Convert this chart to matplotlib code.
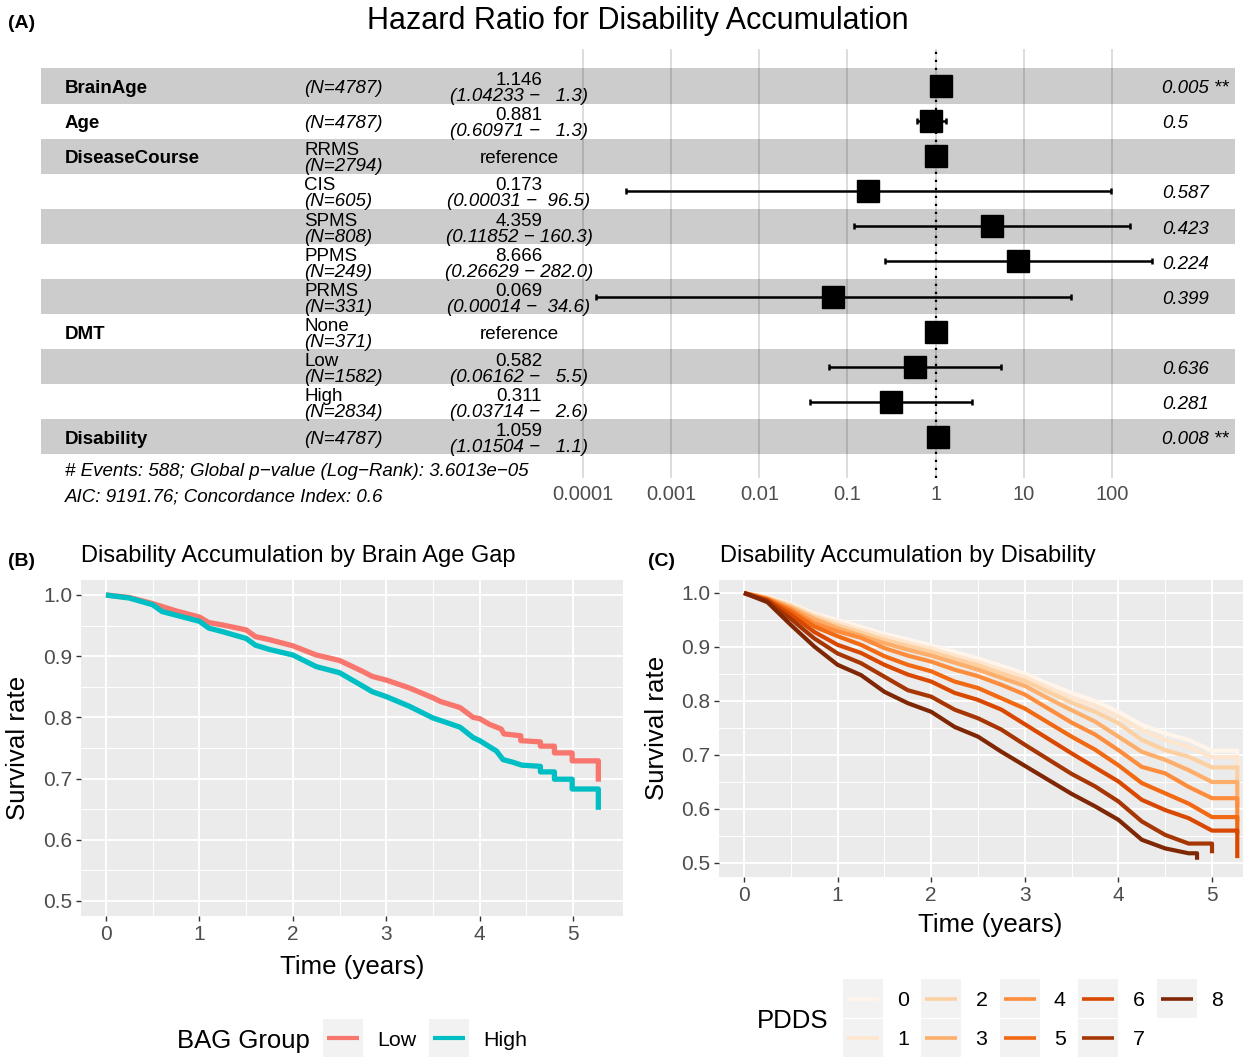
import numpy as np
import matplotlib
matplotlib.use("Agg")
import matplotlib.pyplot as plt
from matplotlib.transforms import blended_transform_factory
from matplotlib.patches import Rectangle
from matplotlib.ticker import NullLocator, FixedLocator, FormatStrFormatter

plt.rcParams['font.family'] = ['Liberation Sans', 'DejaVu Sans']

W, H = 1243, 1057

# ---- (A) forest plot data
var_names = ["BrainAge", "Age", "DiseaseCourse", "", "", "", "", "DMT", "", "", "Disability"]
levels = ["", "", "RRMS", "CIS", "SPMS", "PPMS", "PRMS", "None", "Low", "High", ""]
n_obs = [4787, 4787, 2794, 605, 808, 249, 331, 371, 1582, 2834, 4787]
hr = [1.146, 0.881, 1.0, 0.173, 4.359, 8.666, 0.069, 1.0, 0.582, 0.311, 1.059]
ci_low = [1.04233, 0.60971, None, 0.00031, 0.11852, 0.26629, 0.00014, None, 0.06162, 0.03714, 1.01504]
ci_high = [1.3, 1.3, None, 96.5, 160.3, 282.0, 34.6, None, 5.5, 2.6, 1.1]
p_text = ["0.005 **", "0.5", "", "0.587", "0.423", "0.224", "0.399", "", "0.636", "0.281", "0.008 **"]
hr_ticks = [0.0001, 0.001, 0.01, 0.1, 1, 10, 100]
hr_tick_labels = ["0.0001", "0.001", "0.01", "0.1", "1", "10", "100"]
footnote = ["# Events: 588; Global p\u2212value (Log\u2212Rank): 3.6013e\u221205",
            "AIC: 9191.76; Concordance Index: 0.6"]

# ---- (B) KM by brain age gap group
bag_groups = ["Low", "High"]
bag_colors = ["#F8766D", "#00BFC4"]
t_low = [0, 0.25, 0.5, 0.75, 1.0, 1.1, 1.25, 1.5, 1.6, 1.75, 2.0, 2.25, 2.5, 2.75, 2.85,
         3.0, 3.25, 3.5, 3.58, 3.79, 3.93, 4.0, 4.1, 4.23, 4.26, 4.44, 4.44, 4.65, 4.65,
         4.8, 4.8, 4.99, 4.99, 5.27, 5.27]
s_low = [1.0, 0.996, 0.986, 0.974, 0.964, 0.955, 0.951, 0.943, 0.932, 0.927, 0.917, 0.902,
         0.893, 0.875, 0.867, 0.861, 0.848, 0.832, 0.826, 0.816, 0.800, 0.798, 0.789, 0.781,
         0.773, 0.770, 0.762, 0.760, 0.753, 0.753, 0.742, 0.742, 0.729, 0.729, 0.695]
t_high = [0, 0.25, 0.5, 0.6, 0.75, 1.0, 1.1, 1.25, 1.5, 1.6, 1.75, 2.0, 2.25, 2.5, 2.75,
          2.85, 3.0, 3.25, 3.5, 3.58, 3.79, 3.93, 4.0, 4.18, 4.25, 4.35, 4.45, 4.65, 4.65,
          4.8, 4.8, 4.99, 4.99, 5.27, 5.27]
s_high = [1.0, 0.995, 0.984, 0.973, 0.967, 0.957, 0.946, 0.940, 0.929, 0.918, 0.911, 0.902,
          0.883, 0.873, 0.851, 0.842, 0.834, 0.818, 0.799, 0.795, 0.784, 0.767, 0.762, 0.745,
          0.731, 0.727, 0.722, 0.720, 0.711, 0.711, 0.699, 0.699, 0.683, 0.683, 0.649]

# ---- (C) predicted survival by PDDS
pdds_levels = ["0", "1", "2", "3", "4", "5", "6", "7", "8"]
pdds_colors = ["#FFF5EB", "#FEE6CE", "#FDD0A2", "#FDAE6B", "#FD8D3C",
               "#F16913", "#D94801", "#A63603", "#7F2704"]
c_times = [0, 0.25, 0.5, 0.75, 1.0, 1.25, 1.5, 1.75, 2.0, 2.25, 2.5, 2.75, 3.0,
           3.25, 3.5, 3.75, 4.0, 4.25, 4.5, 4.75, 5.0]
pdds_surv = [
    [1.0, 0.993, 0.980, 0.962, 0.950, 0.937, 0.924, 0.914, 0.903, 0.891, 0.879, 0.865, 0.851,
     0.832, 0.815, 0.800, 0.780, 0.756, 0.740, 0.728, 0.708],
    [1.0, 0.992, 0.978, 0.959, 0.945, 0.932, 0.919, 0.908, 0.897, 0.884, 0.872, 0.858, 0.844,
     0.825, 0.806, 0.791, 0.771, 0.746, 0.728, 0.715, 0.696],
    [1.0, 0.991, 0.976, 0.956, 0.940, 0.927, 0.913, 0.902, 0.891, 0.878, 0.866, 0.851, 0.837,
     0.817, 0.797, 0.780, 0.759, 0.728, 0.709, 0.697, 0.677],
    [1.0, 0.990, 0.973, 0.952, 0.935, 0.921, 0.907, 0.895, 0.884, 0.871, 0.858, 0.843, 0.828,
     0.805, 0.783, 0.762, 0.734, 0.706, 0.691, 0.672, 0.650],
    [1.0, 0.989, 0.970, 0.944, 0.929, 0.917, 0.898, 0.884, 0.873, 0.858, 0.846, 0.830, 0.812,
     0.786, 0.760, 0.738, 0.709, 0.678, 0.666, 0.641, 0.620],
    [1.0, 0.988, 0.966, 0.938, 0.920, 0.904, 0.883, 0.867, 0.855, 0.836, 0.824, 0.805, 0.786,
     0.760, 0.734, 0.710, 0.681, 0.648, 0.629, 0.610, 0.585],
    [1.0, 0.987, 0.960, 0.928, 0.904, 0.889, 0.867, 0.849, 0.836, 0.815, 0.802, 0.784, 0.757,
     0.730, 0.703, 0.677, 0.651, 0.617, 0.598, 0.583, 0.560],
    [1.0, 0.985, 0.952, 0.916, 0.888, 0.870, 0.845, 0.820, 0.808, 0.784, 0.768, 0.747, 0.719,
     0.692, 0.665, 0.642, 0.614, 0.577, 0.552, 0.536],
    [1.0, 0.983, 0.941, 0.901, 0.867, 0.848, 0.817, 0.796, 0.780, 0.752, 0.734, 0.706, 0.680,
     0.654, 0.628, 0.605, 0.580, 0.543, 0.527, 0.518],
]
pdds_end_t = [5.27, 5.27, 5.27, 5.27, 5.27, 5.27, 5.27, 5.0, 4.84]
pdds_end_s = [0.685, 0.666, 0.648, 0.604, 0.577, 0.555, 0.509, 0.518, 0.506]

time_ticks = [0, 1, 2, 3, 4, 5]
surv_ticks = [0.5, 0.6, 0.7, 0.8, 0.9, 1.0]

fig = plt.figure(figsize=(W / 100, H / 100), dpi=100)


def box(left, top, right, bottom):
    return [left / W, 1 - bottom / H, (right - left) / W, (bottom - top) / H]


# ================= (A) =================
axA = fig.add_axes(box(41, 49, 1235, 478))
axA.set_xscale('log')
axA.set_xlim(10 ** -10.145, 10 ** 3.394)
axA.set_ylim(11.17, -1.054)
rows = np.arange(len(var_names))

for t in hr_ticks:
    axA.axvline(t, color='#DADADA', lw=1.3, zorder=0.5)
for i in rows[::2]:
    axA.axhspan(i - 0.5, i + 0.5, color='black', alpha=0.2, lw=0, zorder=1)
axA.axvline(1, color='black', ls=(0, (1, 2.6)), lw=1.6, zorder=2)

ci_rows = [i for i in rows if ci_low[i] is not None]
est = np.array([hr[i] for i in ci_rows])
lo = np.array([ci_low[i] for i in ci_rows])
hi = np.array([ci_high[i] for i in ci_rows])
axA.errorbar(est, ci_rows, xerr=[est - lo, hi - est], fmt='none', ecolor='black',
             elinewidth=1.8, capsize=2.2, capthick=1.8, zorder=3)
axA.plot(hr, rows, 's', ms=15.5, color='black', ls='none', zorder=4)

trans = blended_transform_factory(axA.transAxes, axA.transData)
col_var, col_n, col_est, col_p = (65 - 41) / 1194, (304 - 41) / 1194, (519 - 41) / 1194, (1162 - 41) / 1194
off = 0.228
dy = 0.075   # matplotlib centres on the full text box; nudge down a little
fs = 13.5
for i in rows:
    y = i + dy
    axA.text(col_var, y, var_names[i], transform=trans, ha='left', va='center',
             fontsize=fs, fontweight='bold')
    if levels[i]:
        axA.text(col_n, y - off, levels[i], transform=trans, ha='left', va='center', fontsize=fs)
        axA.text(col_n, y + off, f"(N={n_obs[i]})", transform=trans, ha='left', va='center',
                 fontsize=fs, style='italic')
    else:
        axA.text(col_n, y, f"(N={n_obs[i]})", transform=trans, ha='left', va='center',
                 fontsize=fs, style='italic')
    if ci_low[i] is None:
        axA.text(col_est, y, "reference", transform=trans, ha='center', va='center', fontsize=fs)
    else:
        axA.text(col_est, y - off, f"{hr[i]:.3f}", transform=trans, ha='center', va='center', fontsize=fs)
        axA.text(col_est, y + off, f"({ci_low[i]:.5f} \u2212 {ci_high[i]:5.1f})", transform=trans,
                 ha='center', va='center', fontsize=fs, style='italic')
    if p_text[i]:
        axA.text(col_p, y, p_text[i], transform=trans, ha='left', va='center', fontsize=fs, style='italic')

for k, line in enumerate(footnote):
    axA.text(col_var, 10.91 + dy + 0.74 * k, line, transform=trans, ha='left', va='center',
             fontsize=fs, style='italic', clip_on=False)

axA.set_xticks(hr_ticks)
axA.set_xticklabels(hr_tick_labels)
axA.xaxis.set_minor_locator(NullLocator())
axA.tick_params(axis='x', length=0, pad=5, labelsize=14.5, labelcolor='#4D4D4D')
axA.set_yticks([])
for s in axA.spines.values():
    s.set_visible(False)


# ================= (B) and (C) shared style =================
def km_axes(ax):
    ax.set_facecolor('#EBEBEB')
    ax.set_xlim(-0.264, 5.534)
    ax.set_ylim(0.475, 1.025)
    ax.set_xticks(time_ticks)
    ax.set_yticks(surv_ticks)
    ax.xaxis.set_minor_locator(FixedLocator([0.5, 1.5, 2.5, 3.5, 4.5]))
    ax.yaxis.set_minor_locator(FixedLocator([0.55, 0.65, 0.75, 0.85, 0.95]))
    ax.yaxis.set_major_formatter(FormatStrFormatter('%.1f'))
    ax.grid(which='major', color='white', lw=1.4)
    ax.grid(which='minor', color='white', lw=0.7)
    ax.set_axisbelow(True)
    ax.tick_params(which='major', length=3.5, width=1.0, color='#333333',
                   labelsize=15, labelcolor='#4D4D4D', pad=3)
    ax.tick_params(which='minor', length=0)
    for s in ax.spines.values():
        s.set_visible(False)


axB = fig.add_axes(box(81.3, 579.7, 623, 916.3))
km_axes(axB)
axB.plot(t_low, s_low, color=bag_colors[0], lw=3.8, solid_capstyle='butt')
axB.plot(t_high, s_high, color=bag_colors[1], lw=3.8, solid_capstyle='butt')

axC = fig.add_axes(box(719.3, 579.5, 1262, 876.5))
km_axes(axC)
for vals, col, et, es in zip(pdds_surv, pdds_colors, pdds_end_t, pdds_end_s):
    n = len(vals)
    # read points joined, then the last plateau and the final drop
    tt = c_times[:n] + [et, et]
    ss = vals + [vals[-1], es]
    axC.plot(tt, ss, color=col, lw=3.0, solid_capstyle='butt')

# ================= labels, titles, legends =================
ov = fig.add_axes([0, 0, 1, 1])
ov.set_xlim(0, W)
ov.set_ylim(H, 0)
ov.axis('off')

ov.text(8, 24, "(A)", fontsize=14, fontweight='bold', ha='left', va='center')
ov.text(638, 21, "Hazard Ratio for Disability Accumulation", fontsize=22, ha='center', va='center')
ov.text(8, 562, "(B)", fontsize=14, fontweight='bold', ha='left', va='center')
ov.text(648, 562, "(C)", fontsize=14, fontweight='bold', ha='left', va='center')
ov.text(81, 556, "Disability Accumulation by Brain Age Gap", fontsize=17, ha='left', va='center')
ov.text(720, 556, "Disability Accumulation by Disability", fontsize=17, ha='left', va='center')
ov.text(18, 748, "Survival rate", fontsize=18.6, rotation=90, ha='center', va='center')
ov.text(657, 728, "Survival rate", fontsize=18.6, rotation=90, ha='center', va='center')
ov.text(352, 967, "Time (years)", fontsize=18.6, ha='center', va='center')
ov.text(990, 925, "Time (years)", fontsize=18.6, ha='center', va='center')

# BAG legend
ov.text(177, 1041, "BAG Group", fontsize=18.5, ha='left', va='center')
for i, (g, col) in enumerate(zip(bag_groups, bag_colors)):
    x0 = 323 + 106 * i
    ov.add_patch(Rectangle((x0, 1019), 40, 38, color='#F2F2F2', lw=0))
    ov.plot([x0 + 4, x0 + 36], [1038, 1038], color=col, lw=3.0, solid_capstyle='butt')
    ov.text(x0 + 54, 1041, g, fontsize=15.4, ha='left', va='center')

# PDDS legend
ov.text(757, 1021, "PDDS", fontsize=18.5, ha='left', va='center')
for i, (lab, col) in enumerate(zip(pdds_levels, pdds_colors)):
    x0 = 843 + 78.5 * (i // 2)
    y0 = 979 + 39.5 * (i % 2)
    ov.add_patch(Rectangle((x0, y0), 40, 39, color='#F2F2F2', lw=0))
    ov.plot([x0 + 4, x0 + 36], [y0 + 19.5, y0 + 19.5], color=col, lw=2.6, solid_capstyle='butt')
    ov.text(x0 + 54, y0 + 21, lab, fontsize=15.4, ha='left', va='center')

fig.savefig("out.png", dpi=100)
